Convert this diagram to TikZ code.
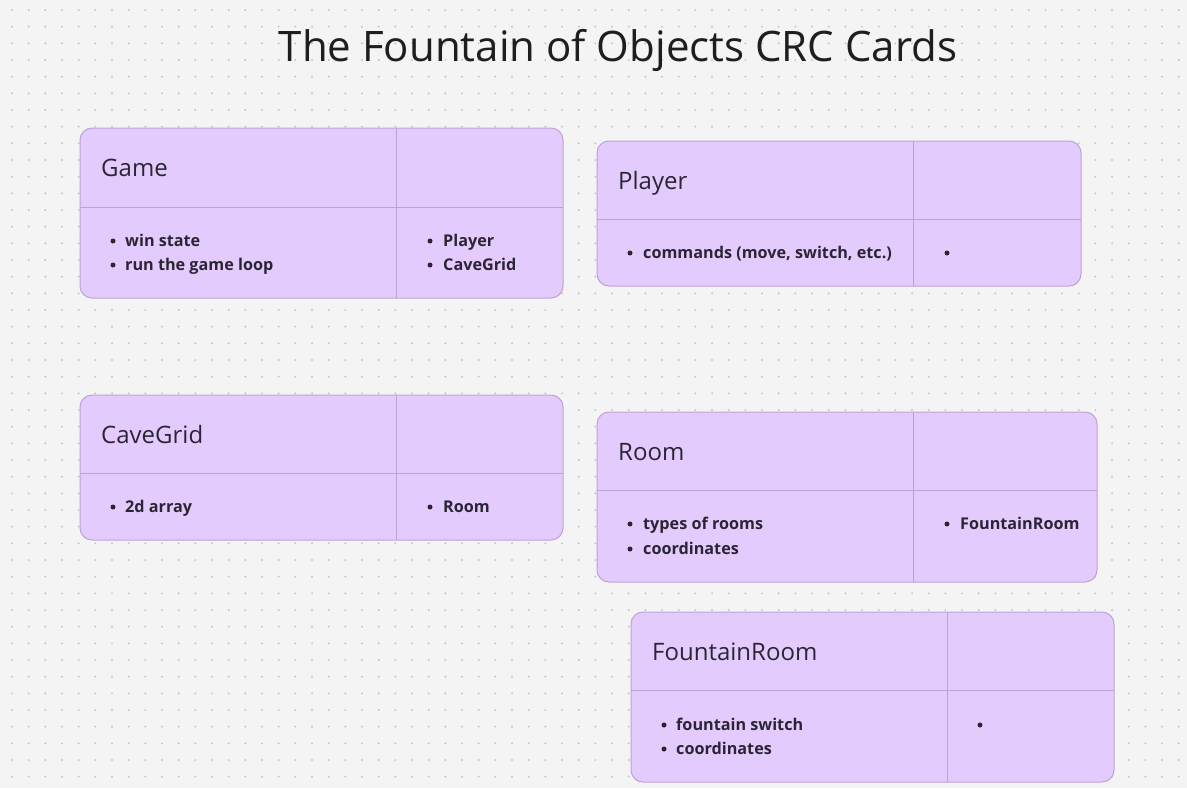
\documentclass[tikz,border=0pt]{standalone}
\usepackage{fontspec}
\setmainfont{Open Sans}
\definecolor{bg}{HTML}{F4F4F4}
\definecolor{dotc}{HTML}{C6C6C6}
\definecolor{cardfill}{HTML}{E3CCFD}
\definecolor{cardline}{HTML}{BEA2D6}
\definecolor{ink}{HTML}{2B2533}
\definecolor{titleink}{HTML}{1E1E1E}
\tikzset{
  card/.style={fill=cardfill, draw=cardline, line width=1pt, rounded corners=12pt},
  divider/.style={draw=cardline, line width=1pt},
  head/.style={anchor=base west, inner sep=0pt, text=ink, font=\fontsize{24}{28}\selectfont},
  item/.style={anchor=base west, inner sep=0pt, text=ink, font=\fontsize{16.2}{19}\selectfont\bfseries},
  bul/.style={fill=ink},
}
\begin{document}
\begin{tikzpicture}[x=1pt,y=-1pt]
\useasboundingbox (0,0) rectangle (1187,788);
\fill[bg] (0,0) rectangle (1187,788);
\foreach \i in {0,...,71}{
  \foreach \j in {0,...,46}{
    \fill[dotc] ({12+16.667*\i},{10+16.667*\j}) circle (1.1);
  }
}
\node[anchor=base, inner sep=0pt, text=titleink, font=\fontsize{42}{48}\selectfont] (title) at (618,61) {The Fountain of Objects CRC Cards};

% Game
\path[card] (80,128) rectangle (563,298);
\draw[divider] (80,207) -- (563,207);
\draw[divider] (396,128) -- (396,298);
\node[head] (gameh) at (101,176.5) {Game};
\fill[bul] (113,241) circle (2.5);
\node[item] (game1) at (125,246.5) {win state};
\fill[bul] (113,265) circle (2.5);
\node[item] (game2) at (125,270.5) {run the game loop};
\fill[bul] (430,241) circle (2.5);
\node[item] (game3) at (443,246.5) {Player};
\fill[bul] (430,265) circle (2.5);
\node[item] (game4) at (443,270.5) {CaveGrid};

% Player
\path[card] (597,141) rectangle (1081,286);
\draw[divider] (597,219) -- (1081,219);
\draw[divider] (913,141) -- (913,286);
\node[head] (playerh) at (618,189.5) {Player};
\fill[bul] (630,253) circle (2.5);
\node[item] (player1) at (643,258.5) {commands (move, switch, etc.)};
\fill[bul] (947,253) circle (2.5);

% CaveGrid
\path[card] (80,395) rectangle (563,540);
\draw[divider] (80,473) -- (563,473);
\draw[divider] (396,395) -- (396,540);
\node[head] (caveh) at (101,443.5) {CaveGrid};
\fill[bul] (113,507) circle (2.5);
\node[item] (cave1) at (125,512.5) {2d array};
\fill[bul] (430,507) circle (2.5);
\node[item] (cave2) at (443,512.5) {Room};

% Room
\path[card] (597,412) rectangle (1097,582);
\draw[divider] (597,490) -- (1097,490);
\draw[divider] (913,412) -- (913,582);
\node[head] (roomh) at (618,460.5) {Room};
\fill[bul] (630,524) circle (2.5);
\node[item] (room1) at (643,529.5) {types of rooms};
\fill[bul] (630,549) circle (2.5);
\node[item] (room2) at (643,554.5) {coordinates};
\fill[bul] (947,524) circle (2.5);
\node[item] (room3) at (960,529.5) {FountainRoom};

% FountainRoom
\path[card] (631,612) rectangle (1114,782);
\draw[divider] (631,690) -- (1114,690);
\draw[divider] (947,612) -- (947,782);
\node[head] (founth) at (652,660.5) {FountainRoom};
\fill[bul] (664,725) circle (2.5);
\node[item] (fount1) at (676,730.5) {fountain switch};
\fill[bul] (664,749) circle (2.5);
\node[item] (fount2) at (676,754.5) {coordinates};
\fill[bul] (980,725) circle (2.5);
\end{tikzpicture}
\end{document}
